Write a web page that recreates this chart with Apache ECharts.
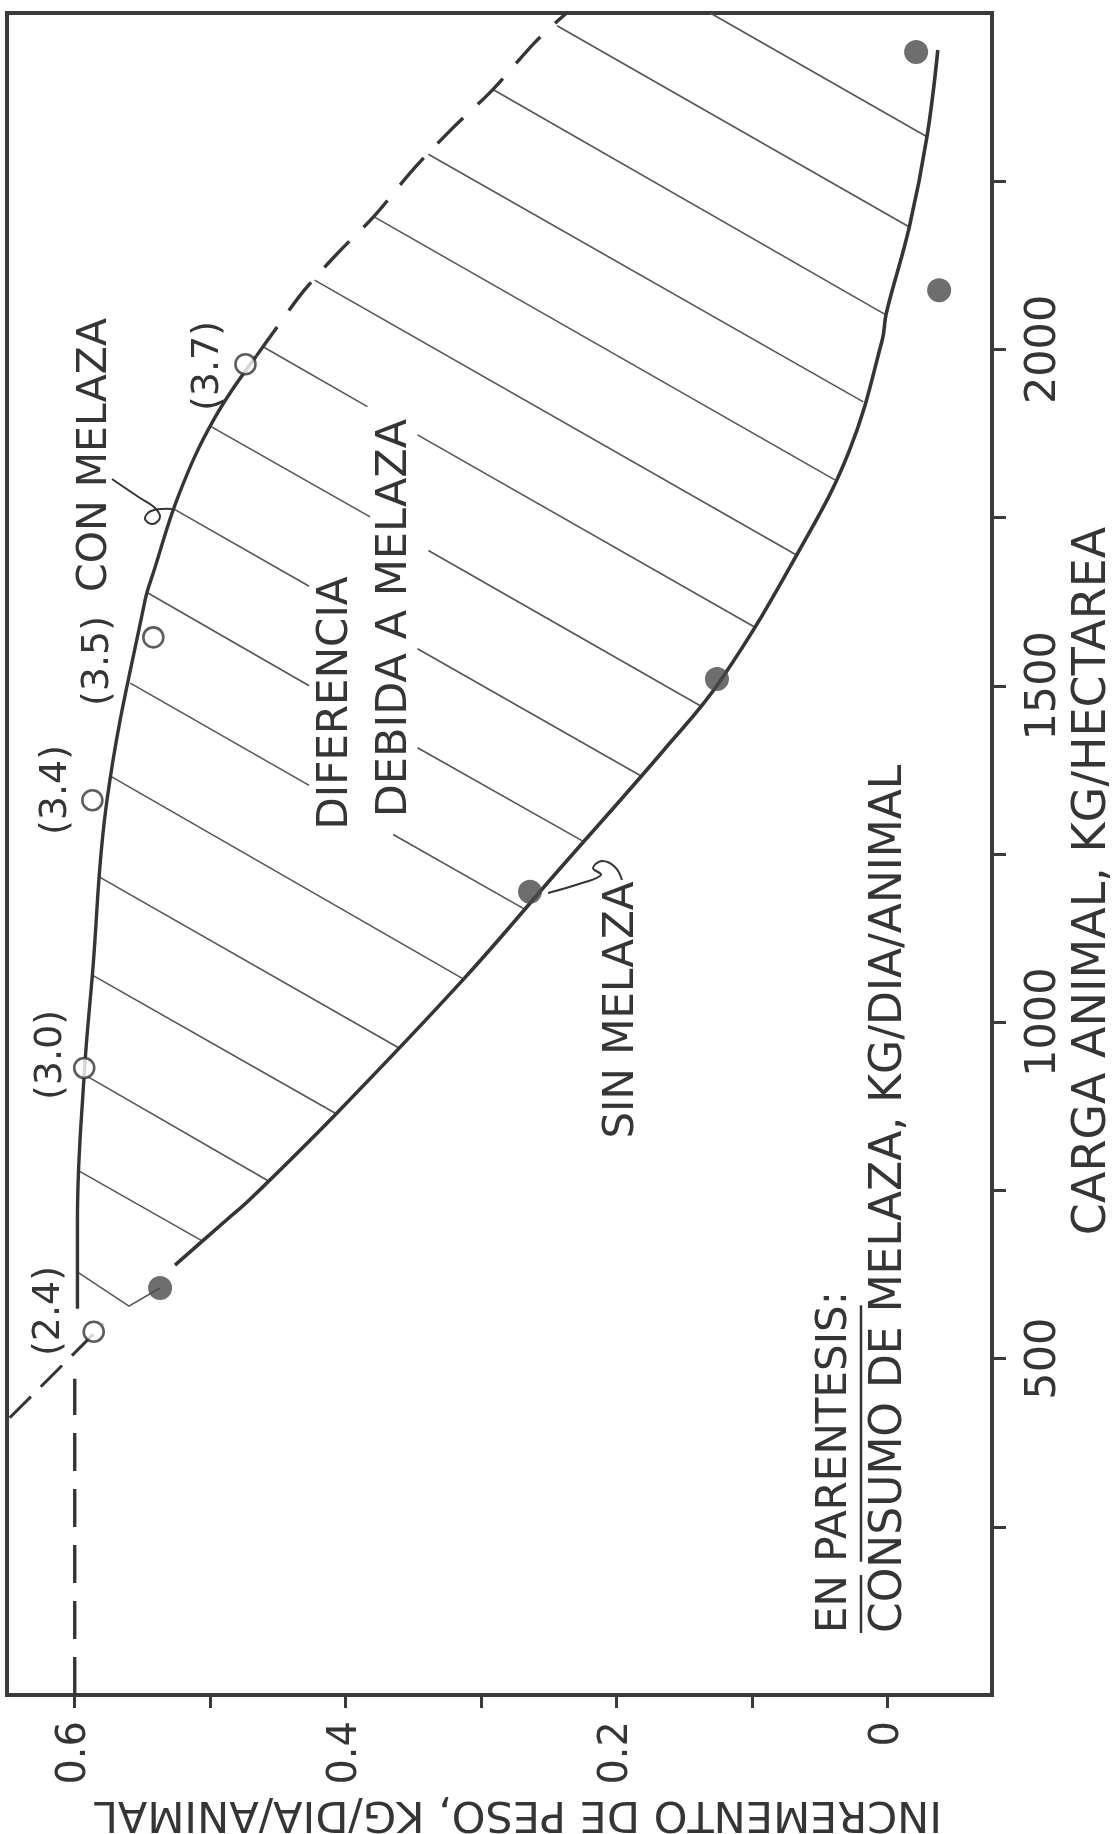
<!DOCTYPE html>
<html>
<head>
<meta charset="utf-8">
<script src="https://cdn.jsdelivr.net/npm/echarts@6/dist/echarts.min.js"></script>
<style>
  html, body { margin: 0; padding: 0; background: #ffffff; }
  #chart { width: 1114px; height: 1834px; }
</style>
</head>
<body>
<div id="chart"></div>
<script>
// Ganancia de peso vs. carga animal, con y sin melaza (gráfica girada 90°).
// Todos los pares van como [carga kg/ha, incremento kg/día/animal].

const cargaTicks = [250, 500, 750, 1000, 1250, 1500, 1750, 2000, 2250];
const cargaLabels = [500, 1000, 1500, 2000];
const incrementoTicks = [0, 0.1, 0.2, 0.3, 0.4, 0.5, 0.6];
const incrementoLabels = [0, 0.2, 0.4, 0.6];

// Curva ajustada con melaza (tramo observado y extrapolación)
const conMelazaCurve = [
  [574, 0.598], [706, 0.598], [923, 0.593], [1070, 0.587], [1333, 0.576],
  [1628, 0.548], [1668, 0.542], [1785, 0.523], [1897, 0.497], [1990, 0.466]
];
const conMelazaExtension = [
  [1990, 0.466], [2021, 0.455], [2087, 0.431], [2145, 0.405], [2198, 0.379],
  [2268, 0.350], [2327, 0.322], [2385, 0.292], [2457, 0.260], [2500, 0.237]
];
const conMelazaLowExtension = [[412, 0.648], [551, 0.579]];
const referenceLevel = [[0, 0.6], [470, 0.6]];

// Curva ajustada sin melaza
const sinMelazaCurve = [
  [639, 0.526], [706, 0.488], [736, 0.471], [864, 0.407], [1064, 0.313],
  [1228, 0.242], [1405, 0.165], [1509, 0.123], [1702, 0.065], [1851, 0.028],
  [2014, 0.004], [2054, 0.001], [2182, -0.016], [2316, -0.029], [2445, -0.037]
];

// Observaciones
const conMelazaPoints = [[540, 0.586], [932, 0.593], [1330, 0.587], [1572, 0.542], [1978, 0.474]];
const consumoMelaza = ['(2.4)', '(3.0)', '(3.4)', '(3.5)', '(3.7)'];
const sinMelazaPoints = [[605, 0.537], [1194, 0.264], [1510, 0.126], [2088, -0.038], [2442, -0.021]];

// Rayado del área "diferencia debida a melaza"
const hatchSegments = [
  [[2500, 0.131], [2316, -0.029]],
  [[2481, 0.244], [2182, -0.016]],
  [[2386, 0.291], [2051, 0.001]],
  [[2290, 0.339], [1922, 0.018]],
  [[2197, 0.379], [1806, 0.039]],
  [[2103, 0.423], [1694, 0.067]],
  [[2004, 0.461], [1915, 0.384]], [[1873, 0.347], [1586, 0.097]],
  [[1886, 0.500], [1751, 0.382]], [[1701, 0.339], [1470, 0.138]],
  [[1763, 0.527], [1648, 0.427]], [[1555, 0.347], [1366, 0.182]],
  [[1638, 0.546], [1500, 0.427]], [[1408, 0.347], [1268, 0.224]],
  [[1504, 0.559], [1352, 0.427]], [[1279, 0.365], [1168, 0.268]],
  [[1365, 0.573], [1064, 0.313]],
  [[1216, 0.582], [962, 0.361]],
  [[1070, 0.587], [864, 0.407]],
  [[922, 0.593], [764, 0.457]],
  [[779, 0.597], [675, 0.506]],
  [[630, 0.599], [578, 0.560], [605, 0.537]]
];

const FONT = '"DejaVu Sans", "Liberation Sans", sans-serif';
const INK = '#353535';
const toXY = pts => pts.map(([c, v]) => [v, c]);

const chart = echarts.init(document.getElementById('chart'), null, { renderer: 'canvas' });

// text width helper for the underlines
const measureCtx = document.createElement('canvas').getContext('2d');
function textWidth(str, size) {
  measureCtx.font = size + 'px ' + FONT;
  return measureCtx.measureText(str).width;
}

const R90 = Math.PI / 2;
function vText(text, x, y, size, align) {
  return {
    type: 'text', x: x, y: y, rotation: R90, z: 50,
    style: { text: text, font: size + 'px ' + FONT, fill: INK, align: align || 'center', verticalAlign: 'middle' }
  };
}

const notes = [
  vText('(3.7)', 208, 366, 38),
  vText('(3.5)', 98, 661, 38),
  vText('CON MELAZA', 95, 455, 41),
  vText('(3.4)', 56, 790, 38),
  vText('(3.0)', 51, 1055, 38),
  vText('(2.4)', 49, 1311, 38),
  vText('DIFERENCIA', 336, 703, 42),
  vText('DEBIDA A MELAZA', 395, 618, 43),
  vText('SIN MELAZA', 622, 1010, 42),
  vText('EN PARENTESIS:', 835, 1633, 42, 'left'),
  vText('CONSUMO DE MELAZA, KG/DIA/ANIMAL', 890, 1633, 44, 'left'),
  {
    type: 'text', x: 518, y: 1813, rotation: Math.PI, z: 50,
    style: { text: 'INCREMENTO DE PESO, KG/DIA/ANIMAL', font: '43px ' + FONT, fill: INK, align: 'center', verticalAlign: 'middle' }
  },
  vText('CARGA ANIMAL, KG/HECTAREA', 1093, 881, 46)
];

// underline "EN" and "PARENTESIS"
const wEN = textWidth('EN', 42);
const wSp = textWidth('EN ', 42);
const wPar = textWidth('PARENTESIS', 42);
const ulX = 861;
notes.push(
  { type: 'line', z: 50, shape: { x1: ulX, y1: 1633, x2: ulX, y2: 1633 - wEN }, style: { stroke: INK, lineWidth: 2.5 } },
  { type: 'line', z: 50, shape: { x1: ulX, y1: 1633 - wSp, x2: ulX, y2: 1633 - wSp - wPar }, style: { stroke: INK, lineWidth: 2.5 } }
);

// pointer strokes from the curve names
notes.push(
  { type: 'polyline', z: 40, shape: { points: [[112, 479], [140, 498], [154, 507], [160, 517], [153, 524], [145, 519], [151, 511], [172, 509]], smooth: 0.4 },
    style: { stroke: INK, lineWidth: 2, fill: null } },
  { type: 'polyline', z: 40, shape: { points: [[622, 880], [615, 867], [602, 861], [593, 868], [601, 875], [582, 883], [548, 893]], smooth: 0.4 },
    style: { stroke: INK, lineWidth: 2, fill: null } }
);

const option = {
  animation: false,
  backgroundColor: '#ffffff',
  grid: {
    left: 7, top: 13, width: 985, height: 1682,
    show: true, borderColor: '#3a3a3a', borderWidth: 4, backgroundColor: 'transparent'
  },
  xAxis: {
    type: 'value', min: -0.077, max: 0.65, inverse: true, position: 'bottom',
    axisLine: { show: false, onZero: false },
    splitLine: { show: false },
    axisTick: { show: true, inside: false, length: 13, customValues: incrementoTicks, lineStyle: { color: '#3a3a3a', width: 3 } },
    axisLabel: {
      customValues: incrementoLabels, rotate: 90, margin: 26,
      formatter: v => (v === 0 ? '0' : v.toFixed(1)),
      fontFamily: FONT, fontSize: 40, color: INK
    }
  },
  yAxis: {
    type: 'value', min: 0, max: 2500, position: 'right',
    axisLine: { show: false, onZero: false },
    splitLine: { show: false },
    axisTick: { show: true, inside: false, length: 14, customValues: cargaTicks, lineStyle: { color: '#3a3a3a', width: 3 } },
    axisLabel: {
      customValues: cargaLabels, rotate: 90, margin: 30,
      formatter: v => String(v),
      fontFamily: FONT, fontSize: 43, color: INK
    }
  },
  series: [
    {
      type: 'lines', coordinateSystem: 'cartesian2d', polyline: true, silent: true, z: 2,
      lineStyle: { color: '#555555', width: 1.6, opacity: 1 },
      data: hatchSegments.map(s => ({ coords: toXY(s) }))
    },
    {
      name: 'Con melaza', type: 'line', data: toXY(conMelazaCurve), smooth: 0.4, symbol: 'none', z: 3,
      lineStyle: { color: INK, width: 3.4 }
    },
    {
      type: 'line', data: toXY(conMelazaExtension), smooth: 0.3, symbol: 'none', z: 3,
      lineStyle: { color: INK, width: 3.4, type: [36, 20] }
    },
    {
      type: 'line', data: toXY(referenceLevel), symbol: 'none', z: 3,
      lineStyle: { color: INK, width: 3.4, type: [38, 18] }
    },
    {
      type: 'line', data: toXY(conMelazaLowExtension), symbol: 'none', z: 3,
      lineStyle: { color: INK, width: 3, type: [30, 14] }
    },
    {
      name: 'Sin melaza', type: 'line', data: toXY(sinMelazaCurve), smooth: 0.4, symbol: 'none', z: 3,
      lineStyle: { color: INK, width: 3.6 }
    },
    {
      type: 'scatter', data: toXY(conMelazaPoints), symbol: 'circle', symbolSize: 20, z: 5,
      itemStyle: { color: '#ffffff', borderColor: INK, borderWidth: 2.6 }
    },
    {
      type: 'scatter', data: toXY(sinMelazaPoints), symbol: 'circle', symbolSize: 24, z: 5,
      itemStyle: { color: '#4a4a4a' }
    }
  ],
  graphic: notes
};

chart.setOption(option);
</script>
</body>
</html>
